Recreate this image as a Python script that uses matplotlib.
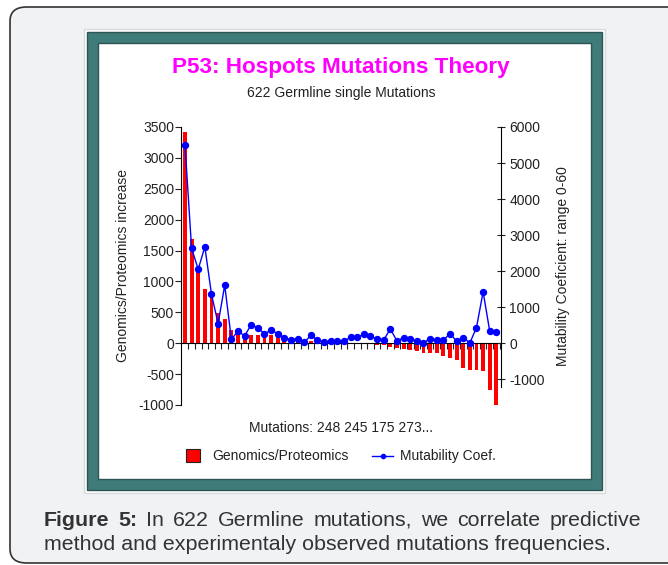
import numpy as np
import matplotlib.pyplot as plt
from matplotlib.patches import Rectangle, FancyBboxPatch
from matplotlib.lines import Line2D

plt.rcParams['font.family'] = ['Liberation Sans', 'DejaVu Sans']
plt.rcParams['axes.unicode_minus'] = False

# values (48 mutations)
genomics = [3425, 1680, 1180, 880, 750, 495, 395, 220, 173, 150,
            135, 130, 110, 128, 118, 65, 52, 40, 20, 38,
            22, 10, 8, 5, 5, 4, 3, 0, -16, -25,
            -33, -60, -76, -86, -113, -130, -151, -151, -157, -205,
            -238, -265, -394, -427, -438, -454, -751, -1020]
mutability = [5500, 2630, 2055, 2675, 1360, 545, 1610, 110, 333, 204,
              518, 426, 260, 365, 268, 150, 95, 120, 25, 218,
              92, 37, 60, 60, 60, 165, 165, 245, 190, 120,
              95, 395, 60, 157, 130, 56, 9, 130, 83, 83,
              268, 56, 157, 9, 435, 1426, 333, 306]
left_ticks = [-1000, -500, 0, 500, 1000, 1500, 2000, 2500, 3000, 3500]
right_ticks = [-1000, 0, 1000, 2000, 3000, 4000, 5000, 6000]

W, H = 668, 565
fig = plt.figure(figsize=(W / 100, H / 100), dpi=100)
fig.patch.set_facecolor('white')

def fx(px):
    return px / W

def fy(py):
    return 1 - py / H

def rect(x0, y0, x1, y1, **kw):
    r = Rectangle((fx(x0), fy(y1)), fx(x1) - fx(x0), fy(y0) - fy(y1),
                  transform=fig.transFigure, zorder=-5, **kw)
    fig.patches.append(r)
    return r

# page card and chart frame
card = FancyBboxPatch((fx(10), fy(563)), fx(690) - fx(10), fy(7) - fy(563),
                      boxstyle='round,pad=0,rounding_size=0.025',
                      transform=fig.transFigure, facecolor='#f1f2f4',
                      edgecolor='#333333', linewidth=1.2, zorder=-6)
fig.patches.append(card)
rect(84, 29, 605, 493, facecolor='white', edgecolor='#d8dadc', linewidth=1)
rect(87, 32, 602, 490, facecolor='#3f7b79', edgecolor='#2d5553', linewidth=1)
rect(98, 43, 591, 479, facecolor='white', edgecolor='#2d5553', linewidth=1)

fig.text(fx(341), fy(67), 'P53: Hospots Mutations Theory', color='#ff00ff',
         fontsize=16.2, fontweight='bold', ha='center', va='center')
fig.text(fx(341), fy(93), '622 Germline single Mutations', color='#222222',
         fontsize=10, ha='center', va='center')

# axes
x = np.arange(1, len(genomics) + 1)
ax = fig.add_axes([fx(181), fy(405), fx(501) - fx(181), fy(127) - fy(405)])
ax.set_facecolor('none')
ax.bar(x, genomics, width=0.58, color='#ff0000', zorder=2)
ax.set_xlim(0.4, 48.7)
ax.set_ylim(-1000, 3500)
ax.set_yticks(left_ticks)
ax.tick_params(axis='y', direction='out', length=4, labelsize=10,
               colors='#222222', pad=1)
ax.spines['left'].set_bounds(-1000, 3500)
ax.spines['top'].set_visible(False)
ax.spines['right'].set_visible(False)
ax.spines['bottom'].set_position(('data', 0))
ax.spines['bottom'].set_zorder(4)
ax.set_xticks(np.arange(1.5, 49, 1))
ax.tick_params(axis='x', direction='out', length=4, labelbottom=False,
               colors='#222222')
ax.set_ylabel('Genomics/Proteomics increase', fontsize=10, color='#222222',
              labelpad=6)

ax2 = ax.twinx()
ax2.set_facecolor('none')
ax2.plot(x, mutability, color='#0000ff', linewidth=1, marker='o',
         markersize=4.3, zorder=3)
ax2.set_ylim(-1714, 6000)
ax2.set_yticks(right_ticks)
ax2.tick_params(axis='y', direction='inout', length=6, labelsize=10,
                colors='#222222', pad=3)
ax2.spines['right'].set_bounds(-1220, 6000)
for s in ['top', 'left', 'bottom']:
    ax2.spines[s].set_visible(False)
ax2.set_ylabel('Mutability Coeficient: range 0-60', fontsize=10,
               color='#222222', labelpad=8)

fig.text(fx(341), fy(428), 'Mutations: 248 245 175 273...', color='#222222',
         fontsize=10, ha='center', va='center')

# legend
rect(186, 449, 200, 462, facecolor='#ff0000', edgecolor='#222222', linewidth=0.8).set_zorder(2)
fig.text(fx(212), fy(456), 'Genomics/Proteomics', fontsize=10, color='#222222',
         va='center')
fig.lines.append(Line2D([fx(372), fx(393)], [fy(456), fy(456)], color='#0000ff',
                        linewidth=1, transform=fig.transFigure))
fig.lines.append(Line2D([fx(382.5)], [fy(456)], color='#0000ff', marker='o',
                        markersize=3, transform=fig.transFigure))
fig.text(fx(400), fy(456), 'Mutability Coef.', fontsize=10, color='#222222',
         va='center')

# caption, first line justified
fig.canvas.draw()
renderer = fig.canvas.get_renderer()
line1 = [('Figure', 'bold'), ('5:', 'bold'), ('In', 'normal'), ('622', 'normal'),
         ('Germline', 'normal'), ('mutations,', 'normal'), ('we', 'normal'),
         ('correlate', 'normal'), ('predictive', 'normal')]
cap_size = 15.4
words = []
total = 0
for w, weight in line1:
    t = fig.text(0, fy(526), w, fontsize=cap_size, fontweight=weight,
                 color='#333333', va='baseline')
    wd = t.get_window_extent(renderer).width
    words.append((t, wd))
    total += wd
left, right = 44, 641
gap = (right - left - total) / (len(words) - 1)
pos = left
for t, wd in words:
    t.set_x(fx(pos))
    pos += wd + gap
fig.text(fx(44), fy(550), 'method and experimentaly observed mutations frequencies.',
         fontsize=cap_size, color='#333333', va='baseline')

fig.savefig('out.png', dpi=100)
